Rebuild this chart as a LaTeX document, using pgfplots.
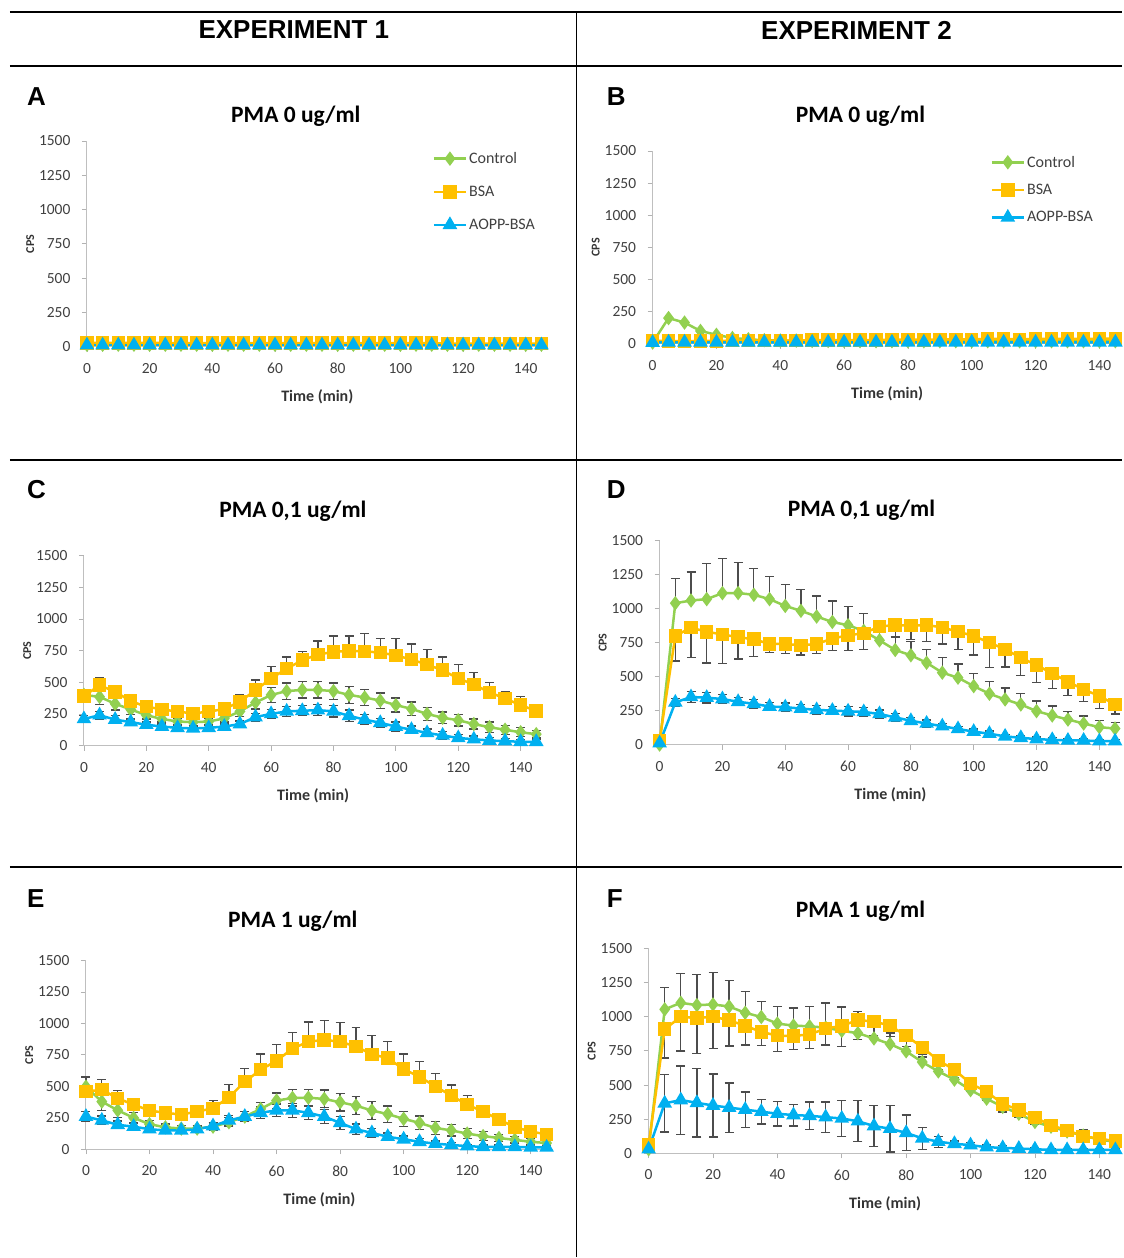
\documentclass[border=0pt]{standalone}
\usepackage{fontspec}
\setmainfont{Carlito}
\newfontfamily\arialb{Liberation Sans}[BoldFont={Liberation Sans Bold}]
\usepackage{pgfplots}
\usepackage{pgfplotstable}
\pgfplotsset{compat=1.18}
\definecolor{cgreen}{HTML}{92D050}
\definecolor{cyellow}{HTML}{FFC000}
\definecolor{cblue}{HTML}{00B0F0}
\definecolor{errc}{gray}{0.3}

\pgfplotstableread{
t c b a
0 15 28 12
5 15 28 12
10 15 28 12
15 15 28 12
20 15 28 12
25 15 28 12
30 15 26 12
35 15 26 12
40 15 26 12
45 15 26 12
50 15 26 12
55 15 26 12
60 15 26 12
65 15 26 12
70 15 26 12
75 15 26 12
80 15 26 12
85 15 26 12
90 15 26 12
95 15 26 12
100 15 26 12
105 15 26 12
110 15 26 12
115 15 24 12
120 15 24 12
125 15 24 12
130 15 24 12
135 15 24 12
140 15 24 12
145 15 24 12
}\tabA

\pgfplotstableread{
t c b a
0 10 25 10
5 200 20 12
10 165 20 12
15 100 22 12
20 70 22 12
25 45 25 12
30 35 25 12
35 28 25 12
40 25 25 12
45 25 25 12
50 22 28 12
55 22 28 12
60 22 28 12
65 20 28 12
70 20 30 12
75 20 30 12
80 20 35 12
85 20 30 12
90 20 35 12
95 20 35 12
100 20 35 12
105 20 38 12
110 20 38 12
115 20 35 12
120 20 38 12
125 20 38 12
130 20 40 12
135 20 38 12
140 20 40 12
145 20 42 12
}\tabB

\pgfplotstableread{
t c ce b be a ae
0 400 40 390 30 210 30
5 385 60 477 58 240 30
10 330 50 425 52 205 30
15 285 40 351 30 185 25
20 240 30 307 20 165 20
25 210 25 286 20 150 20
30 190 25 268 20 140 20
35 185 25 254 20 135 20
40 190 25 268 20 140 20
45 215 30 289 40 150 20
50 270 40 346 60 170 25
55 340 50 438 80 225 30
60 400 60 530 92 250 35
65 430 65 608 92 270 40
70 440 65 674 71 275 40
75 440 65 719 108 280 45
80 430 65 740 126 270 45
85 400 65 748 118 235 45
90 380 65 745 139 205 40
95 355 60 734 110 180 35
100 320 55 713 131 150 35
105 290 55 679 123 125 30
110 250 50 640 121 100 30
115 220 45 595 105 80 30
120 200 45 530 110 60 25
125 170 40 483 94 50 25
130 145 40 420 79 40 25
135 125 35 372 52 35 20
140 105 35 320 66 30 20
145 90 30 273 40 30 20
}\tabC

\pgfplotstableread{
t c ce b be a ae
0 0 0 30 0 10 0
5 1040 180 800 185 310 30
10 1060 210 860 220 350 40
15 1070 260 830 230 345 40
20 1114 255 810 215 335 35
25 1115 225 790 160 315 30
30 1102 195 775 125 300 30
35 1070 165 740 65 280 30
40 1020 160 740 70 275 30
45 984 155 730 70 265 30
50 942 150 740 70 255 30
55 902 155 780 90 250 30
60 878 140 804 110 245 35
65 836 130 819 120 240 35
70 767 110 868 100 225 30
75 696 100 880 90 200 30
80 657 100 875 100 175 25
85 602 100 880 120 155 25
90 529 110 861 120 135 20
95 492 100 831 130 115 20
100 430 95 799 140 95 20
105 374 90 750 185 80 20
110 332 85 701 130 60 15
115 295 80 639 130 50 15
120 246 75 585 130 40 15
125 214 70 524 110 35 15
130 184 60 462 100 30 10
135 155 55 406 90 30 10
140 128 50 357 90 25 10
145 118 45 295 70 25 10
}\tabD

\pgfplotstableread{
t c ce b be a ae
0 497 80 458 110 260 40
5 379 70 474 80 230 35
10 310 60 405 60 195 30
15 250 40 355 40 180 25
20 200 30 308 30 160 25
25 175 25 290 25 150 20
30 165 25 276 25 150 20
35 165 25 300 40 160 25
40 180 30 326 60 185 30
45 215 35 413 100 230 40
50 260 40 537 105 260 40
55 321 50 632 125 290 45
60 387 60 703 130 310 50
65 408 65 800 125 310 55
70 410 65 855 155 290 55
75 400 70 869 155 260 55
80 374 70 855 150 210 50
85 347 70 816 150 160 40
90 308 70 755 150 130 35
95 280 65 724 135 100 30
100 242 60 637 120 80 25
105 210 55 576 120 60 25
110 170 50 500 100 45 20
115 150 45 426 85 35 20
120 125 40 355 75 25 15
125 105 35 300 50 20 15
130 90 30 237 45 20 15
135 75 25 176 40 20 10
140 60 25 142 35 15 10
145 50 20 118 30 15 10
}\tabE

\pgfplotstableread{
t c ce b be a ae
0 30 0 60 0 30 0
5 1054 160 909 210 366 210
10 1102 215 1000 250 390 250
15 1085 225 990 260 370 250
20 1090 235 1000 230 350 230
25 1075 190 975 190 335 180
30 1029 155 933 140 320 130
35 998 115 890 100 305 90
40 950 125 861 115 290 90
45 935 130 860 100 280 80
50 930 145 870 100 275 100
55 920 180 914 120 265 110
60 897 175 933 150 255 130
65 880 160 976 145 235 150
70 841 100 965 100 200 150
75 800 80 935 80 180 170
80 747 70 861 80 150 130
85 668 60 776 70 110 80
90 600 60 680 70 85 40
95 540 60 612 60 70 20
100 463 60 511 60 60 20
105 400 60 451 60 45 15
110 340 60 362 60 40 15
115 290 55 318 55 35 10
120 230 50 263 50 30 10
125 195 45 205 45 25 10
130 160 40 169 40 25 10
135 130 40 125 35 25 10
140 100 30 108 30 25 10
145 85 25 89 25 25 10
}\tabF

\pgfplotsset{
  /pgf/number format/assume math mode=true,
  /pgf/number format/1000 sep={},
  panel/.style={
    scale only axis, anchor=south west, clip=false,
    xmin=0, xmax=147, ymin=0, ymax=1500,
    axis lines*=left,
    axis line style={black!25, line width=1pt},
    xtick={0,20,...,140}, ytick={0,250,...,1500},
    tick style={black!30, line width=0.8pt},
    major tick length=5pt, tick align=outside,
    ticklabel style={font=\fontsize{15.5}{15.5}\selectfont, text=black!75},
    xticklabel style={yshift=-8pt},
    yticklabel style={xshift=-8pt},
    xlabel={\textbf{Time (min)}}, ylabel={\textbf{CPS}},
    xlabel style={font=\fontsize{16}{16}\selectfont, text=black!80, yshift=-9pt},
    ylabel style={font=\fontsize{12}{12}\selectfont, text=black!80, yshift=-2pt},
    legend image code/.code={\draw[mark repeat=2,mark phase=2,##1] plot coordinates {(0pt,0pt) (16pt,0pt) (32pt,0pt)};},
  },
  sC/.style={color=cgreen, line width=2.5pt, mark=diamond*, mark size=5.2pt, mark options={solid}},
  sB/.style={color=cyellow, line width=2.5pt, mark=square*, mark size=5.5pt, mark options={solid}},
  sA/.style={color=cblue, line width=2.5pt, mark=triangle*, mark size=6pt, mark options={solid}},
  eb/.style={forget plot, draw=none, mark=none,
    error bars/.cd, y dir=#1, y explicit,
    error bar style={draw=errc, line width=1.3pt, solid},
    error mark options={rotate=90, mark size=4.5pt, draw=errc, line width=1.3pt}},
  leg/.style={legend style={draw=none, fill=none, font=\fontsize{16}{16}\selectfont, text=black!75,
    cells={anchor=west}, row sep=#1, inner sep=0pt}},
}

\begin{document}
\begin{tikzpicture}
\path (0pt,0pt) rectangle (1123pt,-1258pt);
% frame
\draw[line width=2pt] (10pt,-12pt) -- (1123pt,-12pt);
\draw[line width=2.5pt] (10pt,-66pt) -- (1123pt,-66pt);
\draw[line width=1.5pt] (577pt,-12pt) -- (577pt,-1258pt);
\draw[line width=2pt] (10pt,-460pt) -- (1123pt,-460pt);
\draw[line width=2pt] (10pt,-868pt) -- (1123pt,-868pt);
% headers
\node[font=\arialb\bfseries\fontsize{26}{26}\selectfont] at (294pt,-30pt) {EXPERIMENT 1};
\node[font=\arialb\bfseries\fontsize{26}{26}\selectfont] at (857pt,-30pt) {EXPERIMENT 2};
% letters
\node[font=\arialb\bfseries\fontsize{26}{26}\selectfont, anchor=base west, inner sep=0pt] at (27pt,-106pt) {A};
\node[font=\arialb\bfseries\fontsize{26}{26}\selectfont, anchor=base west, inner sep=0pt] at (607pt,-106pt) {B};
\node[font=\arialb\bfseries\fontsize{26}{26}\selectfont, anchor=base west, inner sep=0pt] at (27pt,-499pt) {C};
\node[font=\arialb\bfseries\fontsize{26}{26}\selectfont, anchor=base west, inner sep=0pt] at (607pt,-499pt) {D};
\node[font=\arialb\bfseries\fontsize{26}{26}\selectfont, anchor=base west, inner sep=0pt] at (27pt,-908pt) {E};
\node[font=\arialb\bfseries\fontsize{26}{26}\selectfont, anchor=base west, inner sep=0pt] at (607pt,-908pt) {F};
% titles
\node[font=\bfseries\fontsize{23.5}{23.5}\selectfont] at (296pt,-116pt) {PMA 0 ug/ml};
\node[font=\bfseries\fontsize{23.5}{23.5}\selectfont] at (861pt,-116pt) {PMA 0 ug/ml};
\node[font=\bfseries\fontsize{23.5}{23.5}\selectfont] at (293pt,-512pt) {PMA 0,1 ug/ml};
\node[font=\bfseries\fontsize{23.5}{23.5}\selectfont] at (862pt,-511pt) {PMA 0,1 ug/ml};
\node[font=\bfseries\fontsize{23.5}{23.5}\selectfont] at (293pt,-922pt) {PMA 1 ug/ml};
\node[font=\bfseries\fontsize{23.5}{23.5}\selectfont] at (861pt,-912pt) {PMA 1 ug/ml};

% Panel A
\begin{axis}[panel, at={(87pt,-347pt)}, width=461pt, height=206pt, leg=17pt,
  legend style={at={(axis description cs:0.75,0.955)}, anchor=north west}]
\addplot[sC] table[x=t,y=c] {\tabA};
\addplot[sB] table[x=t,y=b] {\tabA};
\addplot[sA] table[x=t,y=a] {\tabA};
\legend{Control,BSA,AOPP-BSA}
\end{axis}

% Panel B
\begin{axis}[panel, at={(653pt,-344pt)}, width=469.4pt, height=193pt, leg=11.5pt,
  legend style={at={(axis description cs:0.72,0.985)}, anchor=north west}]
\addplot[sC] table[x=t,y=c] {\tabB};
\addplot[sB] table[x=t,y=b] {\tabB};
\addplot[sA] table[x=t,y=a] {\tabB};
\legend{Control,BSA,AOPP-BSA}
\end{axis}

% Panel C
\begin{axis}[panel, at={(84pt,-746pt)}, width=458.8pt, height=190pt]
\addplot[eb=both] table[x=t,y=c,y error=ce] {\tabC};
\addplot[eb=plus] table[x=t,y=b,y error=be] {\tabC};
\addplot[eb=both] table[x=t,y=a,y error=ae] {\tabC};
\addplot[sC] table[x=t,y=c] {\tabC};
\addplot[sB] table[x=t,y=b] {\tabC};
\addplot[sA] table[x=t,y=a] {\tabC};
\end{axis}

% Panel D
\begin{axis}[panel, at={(660pt,-745pt)}, width=462pt, height=204pt]
\addplot[eb=plus] table[x=t,y=c,y error=ce] {\tabD};
\addplot[eb=minus] table[x=t,y=b,y error=be] {\tabD};
\addplot[eb=both] table[x=t,y=a,y error=ae] {\tabD};
\addplot[sC] table[x=t,y=c] {\tabD};
\addplot[sB] table[x=t,y=b] {\tabD};
\addplot[sA] table[x=t,y=a] {\tabD};
\end{axis}

% Panel E
\begin{axis}[panel, at={(86pt,-1150pt)}, width=467.3pt, height=189pt]
\addplot[eb=both] table[x=t,y=c,y error=ce] {\tabE};
\addplot[eb=plus] table[x=t,y=b,y error=be] {\tabE};
\addplot[eb=both] table[x=t,y=a,y error=ae] {\tabE};
\addplot[sC] table[x=t,y=c] {\tabE};
\addplot[sB] table[x=t,y=b] {\tabE};
\addplot[sA] table[x=t,y=a] {\tabE};
\end{axis}

% Panel F
\begin{axis}[panel, at={(649pt,-1154pt)}, width=473.5pt, height=205pt]
\addplot[eb=plus] table[x=t,y=c,y error=ce] {\tabF};
\addplot[eb=minus] table[x=t,y=b,y error=be] {\tabF};
\addplot[eb=both] table[x=t,y=a,y error=ae] {\tabF};
\addplot[sC] table[x=t,y=c] {\tabF};
\addplot[sB] table[x=t,y=b] {\tabF};
\addplot[sA] table[x=t,y=a] {\tabF};
\end{axis}
\end{tikzpicture}
\end{document}
